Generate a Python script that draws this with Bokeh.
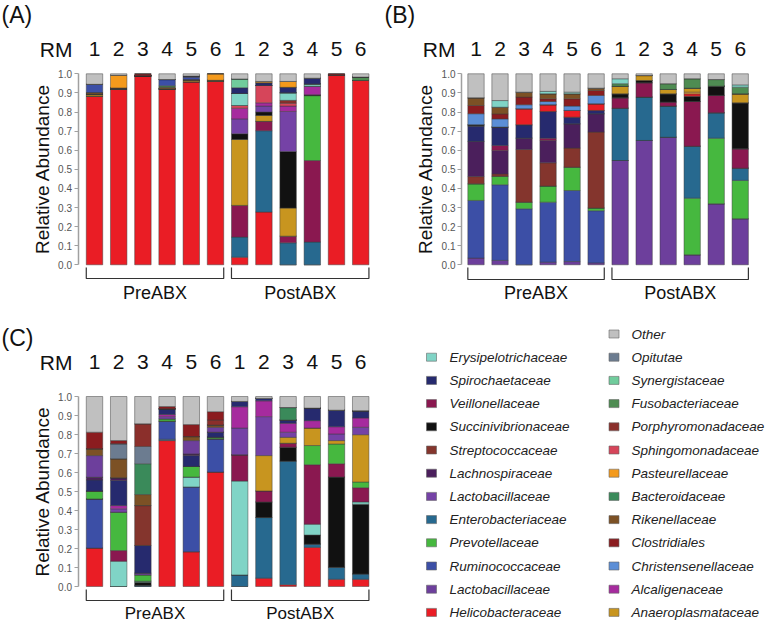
from bokeh.plotting import figure
from bokeh.models import (ColumnDataSource, Range1d, FixedTicker, Label,
                          NumeralTickFormatter, LinearAxis)
from bokeh.layouts import row, column
from bokeh.embed import file_html
from bokeh.resources import INLINE
from bokeh.core.properties import value

FONT = "Liberation Sans"

# ---------------- data ----------------
sample_ids = ["1", "2", "3", "4", "5", "6", "1", "2", "3", "4", "5", "6"]
group_names = ["PreABX", "PostABX"]
group_members = [[0, 1, 2, 3, 4, 5], [6, 7, 8, 9, 10, 11]]

taxon_colors = {
    "Erysipelotrichaceae": "#80d4c6",
    "Spirochaetaceae": "#262a6e",
    "Veillonellaceae": "#8a1850",
    "Succinivibrionaceae": "#111111",
    "Streptococcaceae": "#84352d",
    "Lachnospiraceae": "#4b1f5c",
    "Lactobacillaceae_a": "#7542a6",
    "Enterobacteriaceae": "#27698f",
    "Prevotellaceae": "#46b83f",
    "Ruminococcaceae": "#3c4fa6",
    "Lactobacillaceae_b": "#6d3f9c",
    "Helicobacteraceae": "#ea1d25",
    "Other": "#c0c0c0",
    "Opitutae": "#6c7c90",
    "Synergistaceae": "#70cc9c",
    "Fusobacteriaceae": "#4e8c52",
    "Porphyromonadaceae": "#8b2f2b",
    "Sphingomonadaceae": "#d6455a",
    "Pasteurellaceae": "#f49a1c",
    "Bacteroidaceae": "#3a8a5a",
    "Rikenellaceae": "#7c5125",
    "Clostridiales": "#8b1c1f",
    "Christensenellaceae": "#5b8ed6",
    "Alcaligenaceae": "#a62b9e",
    "Anaeroplasmataceae": "#c8951f",
}

# Panel A (bottom -> top stacking order)
panel_A = {
    "Helicobacteraceae":   [.882, .920, .990, .921, .958, .960, .040, .276, 0, 0, .992, .965],
    "Enterobacteriaceae":  [0, 0, 0, 0, 0, 0, .105, .426, .115, .119, 0, 0],
    "Veillonellaceae":     [0, 0, 0, 0, 0, 0, .166, .049, .035, .427, 0, 0],
    "Prevotellaceae":      [0, 0, 0, 0, 0, 0, 0, 0, 0, .340, 0, 0],
    "Anaeroplasmataceae":  [.008, 0, 0, 0, .007, 0, .345, .031, .147, 0, 0, 0],
    "Succinivibrionaceae": [.004, 0, 0, 0, 0, 0, .030, .018, .296, .004, 0, 0],
    "Lactobacillaceae_a":  [0, 0, 0, 0, 0, 0, .078, .031, .210, 0, 0, 0],
    "Alcaligenaceae":      [0, 0, 0, 0, 0, 0, .056, .017, .028, .045, 0, 0],
    "Sphingomonadaceae":   [0, 0, 0, 0, 0, 0, .014, .091, .015, 0, 0, 0],
    "Porphyromonadaceae":  [0, 0, 0, 0, 0, 0, 0, 0, .015, 0, 0, 0],
    "Erysipelotrichaceae": [0, 0, 0, 0, 0, 0, .063, 0, .040, .012, 0, 0],
    "Rikenellaceae":       [.008, .006, 0, .008, .005, .006, 0, 0, 0, 0, 0, 0],
    "Fusobacteriaceae":    [0, 0, 0, .008, 0, 0, 0, 0, 0, 0, 0, .018],
    "Ruminococcaceae":     [.043, 0, 0, .033, .012, 0, 0, 0, 0, 0, 0, 0],
    "Spirochaetaceae":     [0, 0, 0, 0, .006, 0, .030, .014, .028, .030, 0, 0],
    "Synergistaceae":      [0, 0, 0, 0, 0, 0, .046, 0, 0, 0, 0, 0],
    "Pasteurellaceae":     [0, .066, 0, 0, 0, .034, 0, .007, .031, 0, 0, 0],
    "Clostridiales":       [0, 0, .010, 0, 0, 0, 0, 0, 0, 0, .008, 0],
    "Other":               [.055, .008, 0, .030, .012, 0, .027, .040, .040, .023, 0, .017],
}

# Panel B
panel_B = {
    "Lactobacillaceae_b":  [.035, .023, 0, .014, .017, .010, .546, .651, .668, .052, .319, .241],
    "Ruminococcaceae":     [.302, .396, .293, .314, .372, .273, 0, 0, 0, 0, 0, 0],
    "Prevotellaceae":      [.087, .045, .035, .084, .122, .014, 0, 0, 0, .297, .344, .201],
    "Enterobacteriaceae":  [0, 0, 0, 0, 0, 0, .274, .227, .163, .272, .133, .064],
    "Streptococcaceae":    [.038, .012, .276, .122, .100, .398, 0, 0, 0, 0, 0, 0],
    "Lachnospiraceae":     [.184, .123, .059, .117, .127, .096, 0, 0, 0, 0, 0, 0],
    "Veillonellaceae":     [0, .026, 0, .012, 0, 0, .054, .075, .021, .234, .091, .101],
    "Spirochaetaceae":     [.080, .096, .070, .140, .035, .017, 0, 0, 0, 0, 0, 0],
    "Succinivibrionaceae": [.007, 0, 0, 0, 0, 0, .021, .012, .043, .028, .048, .241],
    "Helicobacteraceae":   [0, 0, .084, .035, .035, .035, 0, 0, 0, .012, 0, 0],
    "Pasteurellaceae":     [0, 0, 0, 0, 0, 0, 0, 0, 0, .009, 0, 0],
    "Anaeroplasmataceae":  [0, 0, 0, 0, 0, 0, .040, .026, .023, .021, 0, .047],
    "Christensenellaceae": [.058, .043, .021, .017, .023, .044, 0, 0, 0, 0, 0, 0],
    "Clostridiales":       [.043, .026, .040, .014, .038, .026, 0, 0, 0, 0, 0, 0],
    "Rikenellaceae":       [.040, .035, .026, .026, .026, .012, 0, 0, 0, 0, 0, 0],
    "Fusobacteriaceae":    [0, 0, 0, 0, 0, 0, .013, 0, .030, .049, .035, .035],
    "Erysipelotrichaceae": [0, .035, 0, .013, .009, 0, .026, 0, 0, 0, 0, .012],
    "Other":               [.126, .140, .096, .092, .096, .075, .026, .009, .052, .026, .030, .058],
}

# Panel C
panel_C = {
    "Helicobacteraceae":   [.202, 0, 0, .768, .183, .602, 0, .044, .009, .206, .038, .038],
    "Enterobacteriaceae":  [0, 0, .006, .007, 0, 0, .061, .319, .651, .017, .063, .028],
    "Ruminococcaceae":     [.259, 0, 0, .095, .341, .175, 0, 0, 0, 0, 0, 0],
    "Succinivibrionaceae": [0, 0, .016, 0, 0, 0, 0, .082, .073, .048, .475, .367],
    "Erysipelotrichaceae": [0, .133, .006, 0, .052, 0, .494, 0, 0, .057, 0, .012],
    "Veillonellaceae":     [0, .056, 0, 0, 0, 0, .138, .058, .021, .313, .070, .075],
    "Prevotellaceae":      [.041, .202, .033, .012, .056, .009, 0, 0, 0, .101, .104, .030],
    "Anaeroplasmataceae":  [0, 0, 0, 0, 0, 0, 0, .186, .031, .092, .018, .249],
    "Lactobacillaceae_a":  [0, .018, .009, .012, 0, 0, .141, .205, .027, 0, .035, .039],
    "Alcaligenaceae":      [0, .017, 0, .011, 0, 0, .112, .083, .047, .039, .038, .049],
    "Spirochaetaceae":     [.059, .132, .146, .030, .057, .026, .028, .013, .017, .066, .087, .038],
    "Lachnospiraceae":     [.014, .014, 0, 0, .009, 0, 0, 0, 0, 0, 0, 0],
    "Streptococcaceae":    [0, 0, .210, 0, 0, 0, 0, 0, 0, 0, 0, 0],
    "Lactobacillaceae_b":  [.114, 0, 0, 0, .070, .026, 0, 0, 0, 0, 0, 0],
    "Rikenellaceae":       [.036, .100, .058, 0, .021, .012, 0, 0, 0, 0, 0, 0],
    "Bacteroidaceae":      [0, 0, .162, 0, 0, 0, 0, 0, .066, 0, 0, 0],
    "Opitutae":            [0, .079, .091, 0, 0, 0, 0, 0, 0, 0, 0, 0],
    "Porphyromonadaceae":  [0, 0, .119, 0, 0, .026, 0, 0, 0, 0, 0, 0],
    "Clostridiales":       [.087, .017, 0, .012, .063, .044, 0, 0, 0, 0, 0, 0],
    "Other":               [.188, .232, .144, .053, .148, .080, .026, .010, .058, .061, .072, .075],
}

legend_left = ["Erysipelotrichaceae", "Spirochaetaceae", "Veillonellaceae",
               "Succinivibrionaceae", "Streptococcaceae", "Lachnospiraceae",
               "Lactobacillaceae_a", "Enterobacteriaceae", "Prevotellaceae",
               "Ruminococcaceae", "Lactobacillaceae_b", "Helicobacteraceae"]
legend_right = ["Other", "Opitutae", "Synergistaceae", "Fusobacteriaceae",
                "Porphyromonadaceae", "Sphingomonadaceae", "Pasteurellaceae",
                "Bacteroidaceae", "Rikenellaceae", "Clostridiales",
                "Christensenellaceae", "Alcaligenaceae", "Anaeroplasmataceae"]


def display_name(k):
    return k.split("_")[0]


# ---------------- panels ----------------
def make_panel(letter, data, left, top, width, height, axis_x, cx0, pitch,
               y1, y0, top_mid, letter_mid, rm_right, br_top, br_bot,
               grp_mid, grp_size, bar_w):
    ppu = y0 - y1

    def dx(px):
        return (px - cx0) / pitch

    def dy(py):
        return (y0 - py) / ppu

    p = figure(width=width, height=height,
               x_range=Range1d(dx(left), dx(left + width)),
               y_range=Range1d(dy(top + height), dy(top)),
               x_axis_type=None, y_axis_type=None,
               output_backend="svg", toolbar_location=None,
               min_border_left=0, min_border_right=0,
               min_border_top=0, min_border_bottom=0)
    p.outline_line_color = None
    p.background_fill_color = "white"
    p.border_fill_color = "white"

    order = list(data.keys())
    src = ColumnDataSource(dict(x=list(range(len(sample_ids))),
                                **{k: data[k] for k in order}))
    p.vbar_stack(order, x="x", width=bar_w, source=src,
                 fill_color=[taxon_colors[k] for k in order],
                 line_color="#3a3a3a", line_width=0.6, line_alpha=0.8)

    ax = LinearAxis(fixed_location=dx(axis_x))
    ax.bounds = (0, 1)
    ax.ticker = FixedTicker(ticks=[i / 10 for i in range(11)])
    ax.formatter = NumeralTickFormatter(format="0.0")
    ax.minor_tick_line_color = None
    ax.major_tick_out = 4
    ax.major_tick_in = 0
    ax.major_label_standoff = 2
    ax.major_label_text_font = FONT
    ax.major_label_text_font_size = "10px"
    ax.major_label_text_color = "#555555"
    ax.axis_line_color = "#a0a0a0"
    ax.axis_line_width = 1.5
    ax.major_tick_line_color = "#a0a0a0"
    ax.major_tick_line_width = 1.2
    ax.axis_label = "Relative Abundance"
    ax.axis_label_text_font = FONT
    ax.axis_label_text_font_style = "normal"
    ax.axis_label_text_font_size = "19px"
    ax.axis_label_text_color = "#111111"
    ax.axis_label_standoff = 3
    p.add_layout(ax, "left")

    # sample numbers above bars
    p.text(x=list(range(len(sample_ids))), y=[dy(top_mid)] * len(sample_ids),
           text=sample_ids, text_align="center", text_baseline="middle",
           text_font=value(FONT), text_font_size="21px", text_color="#111111")
    p.add_layout(Label(x=dx(rm_right), y=dy(top_mid), text="RM",
                       text_align="right", text_baseline="middle",
                       text_font=FONT, text_font_size="21px",
                       text_color="#111111"))
    p.add_layout(Label(x=dx(left + 1), y=dy(letter_mid), text=letter,
                       text_align="left", text_baseline="middle",
                       text_font=FONT, text_font_size="23px",
                       text_color="#111111"))

    # group brackets and labels
    xs, ys, gx = [], [], []
    for members in group_members:
        xl = members[0] - bar_w / 2
        xr = members[-1] + bar_w / 2
        xs.append([xl, xl, xr, xr])
        ys.append([dy(br_top), dy(br_bot), dy(br_bot), dy(br_top)])
        gx.append((members[0] + members[-1]) / 2)
    p.multi_line(xs=xs, ys=ys, line_color="#333333", line_width=1.2)
    p.text(x=gx, y=[dy(grp_mid)] * len(gx), text=group_names,
           text_align="center", text_baseline="middle",
           text_font=value(FONT), text_font_size=grp_size,
           text_color="#111111")
    return p


pA = make_panel("(A)", panel_A, left=0, top=0, width=383, height=325,
                axis_x=77.5, cx0=94.0, pitch=24.2, y1=73.3, y0=264.3,
                top_mid=48.5, letter_mid=14.5, rm_right=72,
                br_top=267, br_bot=278, grp_mid=292.5, grp_size="18px",
                bar_w=0.68)
pB = make_panel("(B)", panel_B, left=383, top=0, width=383, height=325,
                axis_x=461, cx0=475.5, pitch=24.02, y1=73.3, y0=264.3,
                top_mid=48.5, letter_mid=14.5, rm_right=455,
                br_top=267, br_bot=279, grp_mid=292.5, grp_size="18px",
                bar_w=0.68)
pC = make_panel("(C)", panel_C, left=0, top=325, width=383, height=297,
                axis_x=77.5, cx0=94.0, pitch=24.2, y1=396, y0=586,
                top_mid=361.7, letter_mid=337, rm_right=72,
                br_top=589, br_bot=600, grp_mid=612.5, grp_size="17px",
                bar_w=0.68)

# ---------------- legend ----------------
pL = figure(width=383, height=297, x_range=Range1d(383, 766),
            y_range=Range1d(622, 325), x_axis_type=None, y_axis_type=None,
            output_backend="svg", toolbar_location=None,
            min_border_left=0, min_border_right=0, min_border_top=0,
            min_border_bottom=0)
pL.outline_line_color = None
pL.background_fill_color = "white"
pL.border_fill_color = "white"

for names, sx, tx, y_first in [(legend_left, 431, 449, 356.7),
                               (legend_right, 613.5, 631, 333.5)]:
    ys = [y_first + 23.2 * k for k in range(len(names))]
    pL.rect(x=[sx] * len(names), y=ys, width=10, height=8,
            fill_color=[taxon_colors[n] for n in names],
            line_color="#666666", line_width=0.6)
    pL.text(x=[tx] * len(names), y=ys, text=[display_name(n) for n in names],
            text_align="left", text_baseline="middle",
            text_font=value(FONT), text_font_style="italic",
            text_font_size="13.5px", text_color="#222222")

layout = column(row(pA, pB), row(pC, pL))
open("out.html", "w").write(file_html(layout, INLINE))
